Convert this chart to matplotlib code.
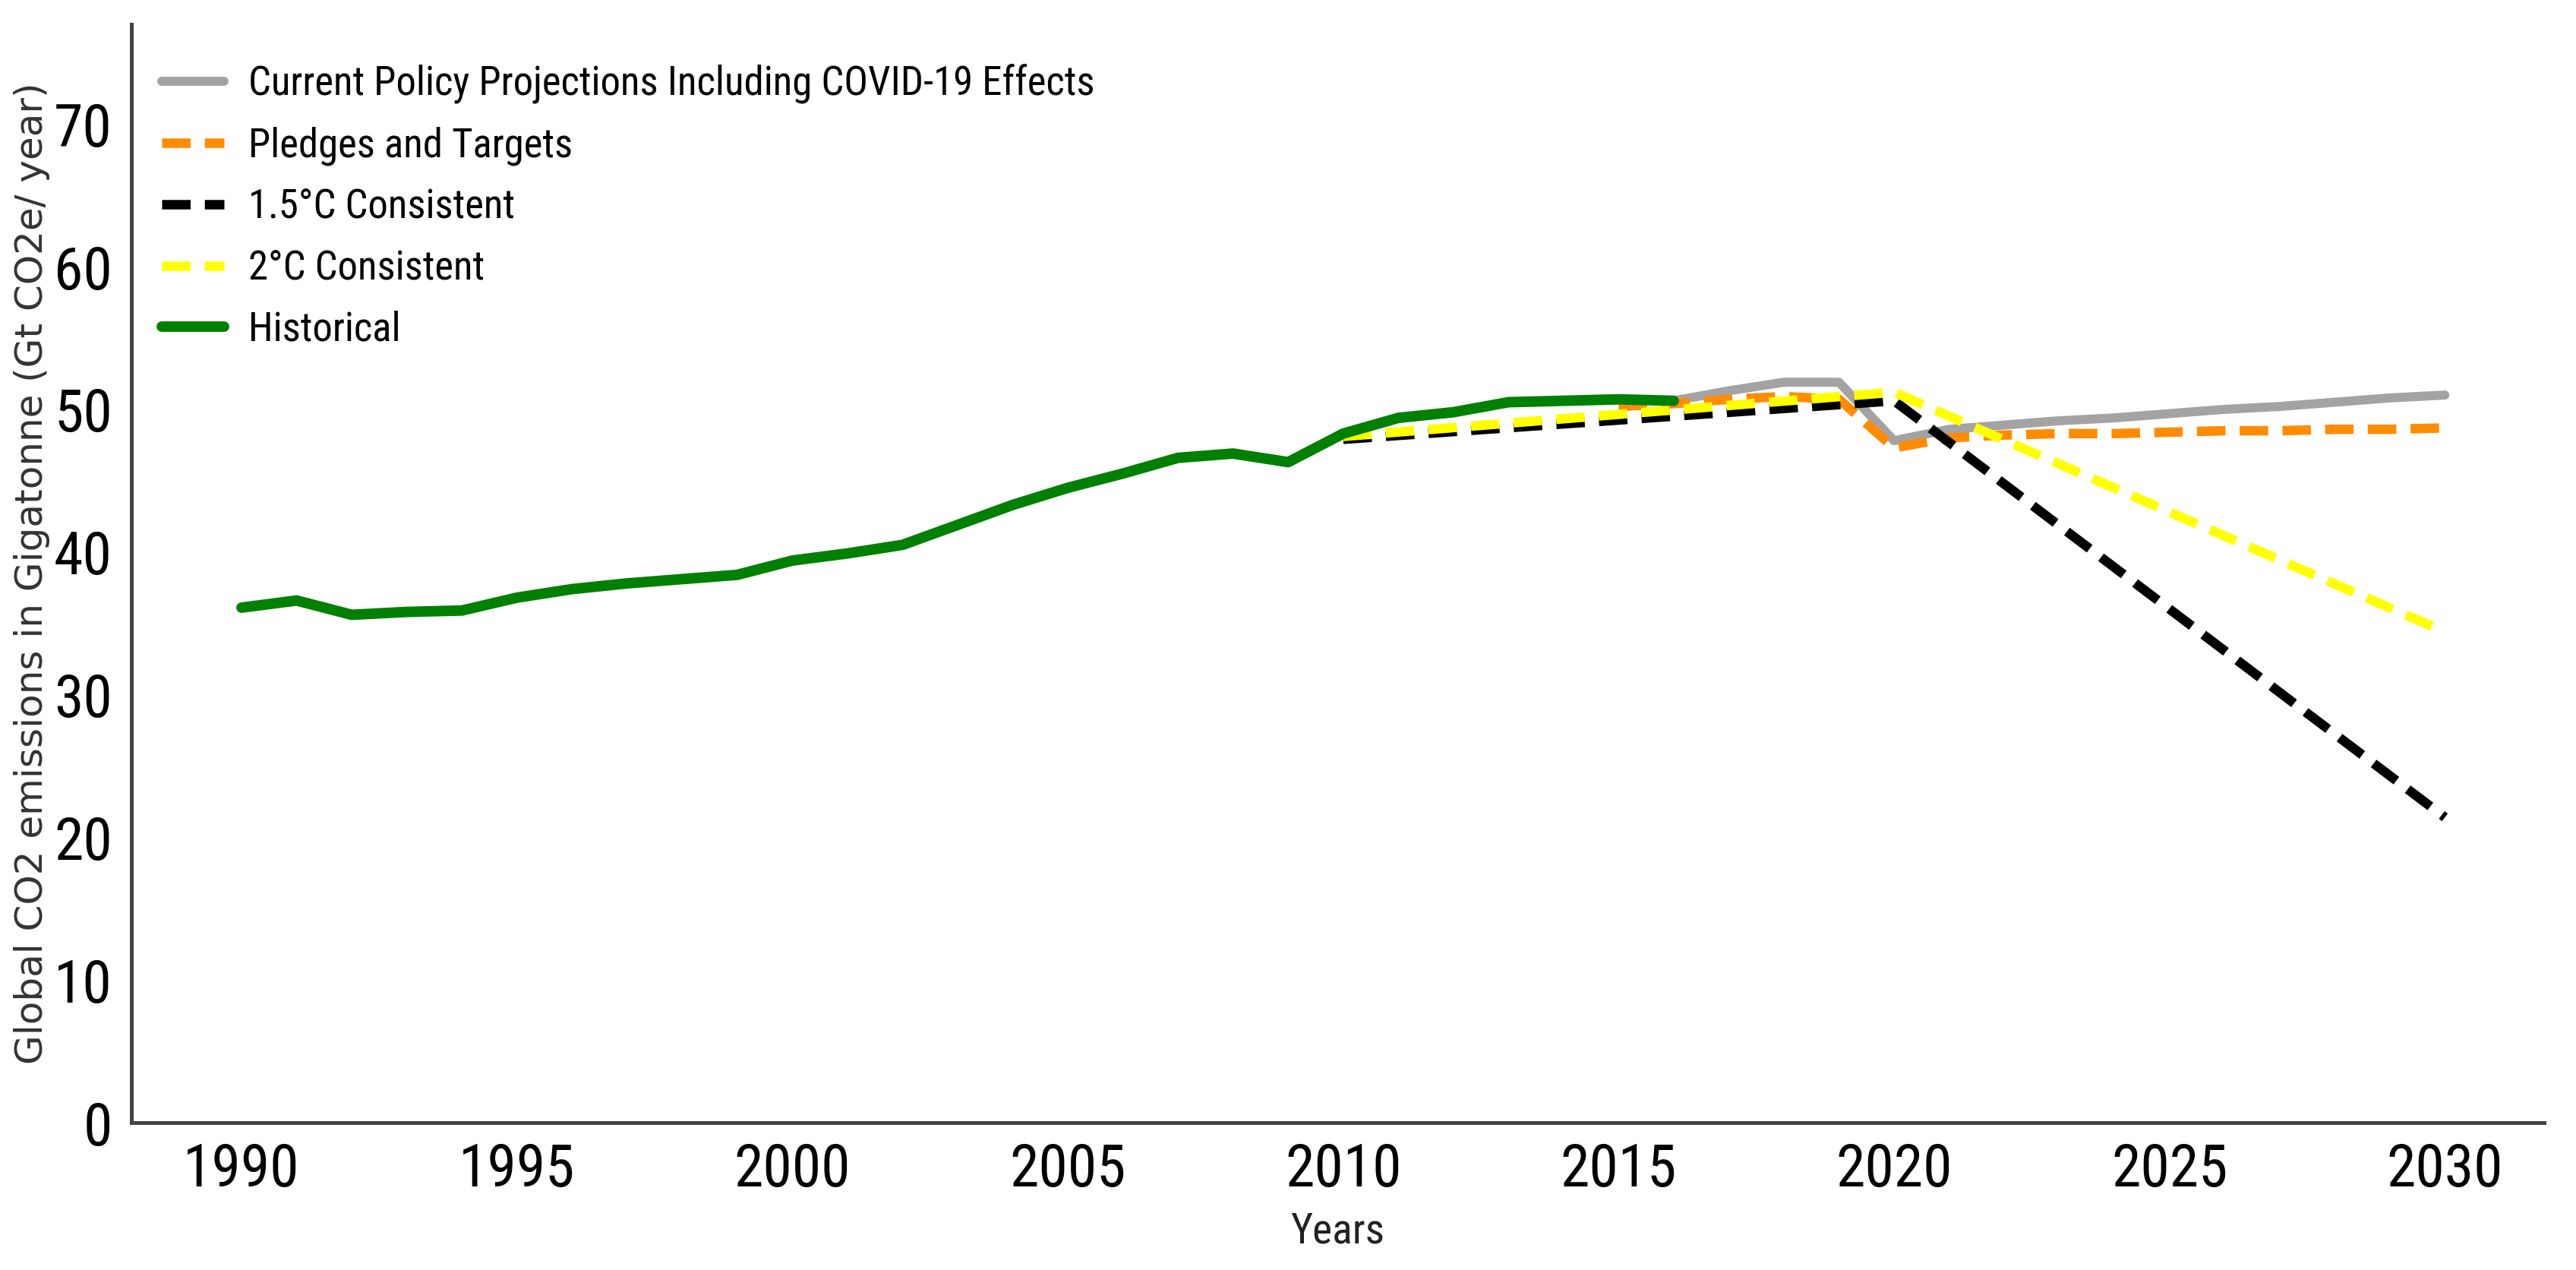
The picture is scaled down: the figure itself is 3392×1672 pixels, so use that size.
import matplotlib
matplotlib.use("Agg")
import matplotlib.pyplot as plt

# Historical emissions (Gt CO2e / year)
hist_years = list(range(1990, 2017))
hist_vals = [36.1, 36.6, 35.6, 35.8, 35.9, 36.8, 37.4, 37.8, 38.1, 38.4,
             39.4, 39.9, 40.5, 41.9, 43.3, 44.5, 45.5, 46.6, 46.9, 46.3,
             48.3, 49.4, 49.8, 50.5, 50.6, 50.7, 50.6]

# Current policy projections including COVID-19 effects
cpp_years = list(range(2016, 2031))
cpp_vals = [50.6, 51.3, 51.9, 51.9, 47.8, 48.6, 48.9, 49.2, 49.4, 49.7,
            50.0, 50.2, 50.5, 50.8, 51.0]

# Pledges and targets
pt_years = list(range(2015, 2031))
pt_vals = [50.2, 50.4, 50.7, 50.9, 50.7, 47.3, 48.0, 48.2, 48.3, 48.3,
           48.4, 48.5, 48.5, 48.6, 48.6, 48.7]

# 1.5°C and 2°C consistent pathways
c15_years = [2010, 2020, 2030]
c15_vals = [47.9, 50.6, 21.4]
c20_years = [2010, 2020, 2030]
c20_vals = [48.1, 51.2, 34.4]

x_ticks = list(range(1990, 2031, 5))
y_ticks = list(range(0, 71, 10))

NARROW = ["Roboto Condensed", "Liberation Sans Narrow", "Roboto", "DejaVu Sans"]

fig = plt.figure(figsize=(16.96, 8.36), dpi=200)
ax = fig.add_axes([0.051, 0.116, 0.9366, 0.865])

dash = (0, (3, 1.5))
ax.plot(cpp_years, cpp_vals, color="#a3a3a3", lw=4.3, solid_capstyle="round",
        label="Current Policy Projections Including COVID-19 Effects")
ax.plot(pt_years, pt_vals, color="#ff8c00", lw=4.5, linestyle=dash,
        label="Pledges and Targets")
ax.plot(c15_years, c15_vals, color="black", lw=4.5, linestyle=dash,
        label="1.5°C Consistent")
ax.plot(c20_years, c20_vals, color="#ffff00", lw=4.5, linestyle=dash,
        label="2°C Consistent")
ax.plot(hist_years, hist_vals, color="#008000", lw=5, solid_capstyle="round",
        label="Historical")

ax.set_xlim(1988, 2031.8)
ax.set_ylim(0, 77)
ax.set_xticks(x_ticks)
ax.set_yticks(y_ticks)
for lab in ax.get_xticklabels() + ax.get_yticklabels():
    lab.set_family(NARROW)
    lab.set_stretch("condensed")
    lab.set_fontsize(28)
ax.tick_params(length=0, pad=9)

for side in ("top", "right"):
    ax.spines[side].set_visible(False)
for side in ("left", "bottom"):
    ax.spines[side].set_color("#444444")
    ax.spines[side].set_linewidth(1.8)

ax.set_xlabel("Years", family=NARROW, fontstretch="condensed", fontsize=20,
              color="#222222", labelpad=6)
ax.set_ylabel("Global CO2 emissions in Gigatonne (Gt CO2e/ year)",
              family="DejaVu Sans", fontsize=18, color="#333333", labelpad=2)

ax.legend(loc="upper left", frameon=False,
          prop={"family": NARROW, "size": 19, "stretch": "condensed"},
          handlelength=1.55, handletextpad=0.6, labelspacing=0.56,
          borderaxespad=0.0, bbox_to_anchor=(0.006, 0.978))

fig.savefig("out.png", dpi=200)
